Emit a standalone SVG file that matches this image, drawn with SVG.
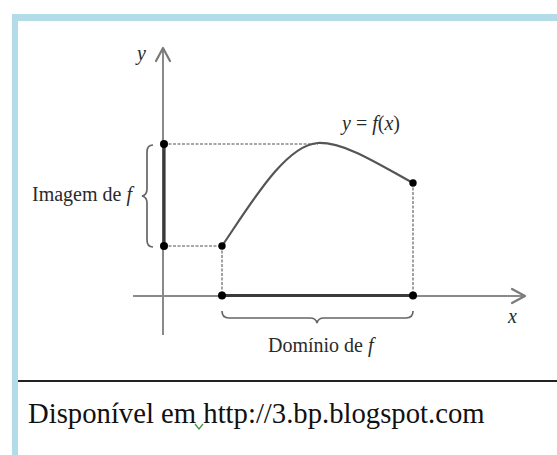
<svg xmlns="http://www.w3.org/2000/svg" width="557" height="455" viewBox="0 0 557 455">
<style>
.frame{fill:#b2dce8}
.axis{stroke:#8a8a8a;stroke-width:2;fill:none}
.arrow{stroke:#7a7a7a;stroke-width:2.2;fill:none;stroke-linecap:round;stroke-linejoin:round}
.dash{stroke:#8c8c8c;stroke-width:1.6;stroke-dasharray:3 1.5;fill:none}
.thick{stroke:#3a3a3a;stroke-width:3.2;fill:none}
.curve{stroke:#555;stroke-width:2.2;fill:none}
.brace{stroke:#666;stroke-width:1.7;fill:none}
.dot{fill:#000}
.lbl{font-family:"Liberation Serif","Times New Roman",serif;fill:#2a2a2a;font-size:20px}
.it{font-style:italic}
.src{font-family:"Liberation Serif","Times New Roman",serif;fill:#111;font-size:28.7px}
</style>
<rect width="557" height="455" fill="#fff"/>
<g id="frame">
<rect class="frame" x="12" y="14" width="545" height="7"/>
<rect class="frame" x="12" y="14" width="6" height="441"/>
</g>
<g id="connectors">
<line class="dash" x1="164" y1="144" x2="318" y2="144"/>
<line class="dash" x1="164" y1="246" x2="222" y2="246"/>
<line class="dash" x1="222" y1="246" x2="222" y2="296"/>
<line class="dash" x1="413" y1="183" x2="413" y2="296"/>
</g>
<g id="axes">
<line class="axis" x1="163" y1="50" x2="163" y2="335"/>
<line class="axis" x1="133" y1="296" x2="523" y2="296"/>
<polyline class="arrow" points="156,61 163,48 170,61"/>
<polyline class="arrow" points="512,289 525,296 512,303"/>
</g>
<g id="image-segment">
<line class="thick" x1="164" y1="144" x2="164" y2="246"/>
</g>
<g id="domain-segment">
<line class="thick" x1="222" y1="295.5" x2="413" y2="295.5"/>
</g>
<g id="curve">
<path class="curve" d="M222,246 C250,205 285,145 318,143 C345,142 380,165 413,183"/>
</g>
<g id="points">
<circle class="dot" cx="164" cy="144" r="4"/>
<circle class="dot" cx="164" cy="246" r="4"/>
<circle class="dot" cx="222" cy="246" r="3.7"/>
<circle class="dot" cx="413" cy="183" r="3.7"/>
<circle class="dot" cx="222" cy="295.5" r="4"/>
<circle class="dot" cx="413" cy="295.5" r="4"/>
</g>
<g id="image-brace">
<path class="brace" d="M153,145 Q147,145 147,152 L147,189 Q147,195 142,196 Q147,197 147,203 L147,240 Q147,247 153,247"/>
<text class="lbl" x="32" y="201" font-size="20.6">Imagem de <tspan class="it">f</tspan></text>
</g>
<g id="domain-brace">
<path class="brace" d="M222,311 Q222,318 229,318 L310,318 Q316,318 317,323 Q318,318 324,318 L406,318 Q413,318 413,311"/>
<text class="lbl" x="268" y="352">Domínio de <tspan class="it">f</tspan></text>
</g>
<g id="labels">
<text class="lbl it" x="137" y="60" font-size="18">y</text>
<text class="lbl it" x="508" y="323" font-size="19">x</text>
<text class="lbl" x="342" y="130" font-size="21"><tspan class="it">y</tspan> = <tspan class="it">f</tspan>(<tspan class="it">x</tspan>)</text>
</g>
<g id="source">
<line x1="18" y1="381" x2="557" y2="381" stroke="#222" stroke-width="2"/>
<text class="src" x="28" y="423">Disponível em http://3.bp.blogspot.com</text>
<polyline points="195,424 199,429 203,424" fill="none" stroke="#3a9a3a" stroke-width="1.3"/>
</g>
</svg>
